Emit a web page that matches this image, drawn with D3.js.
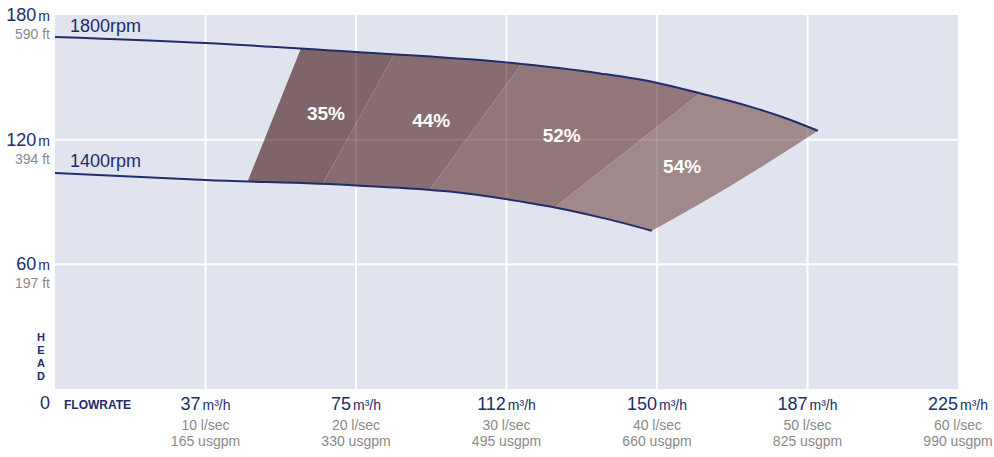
<!DOCTYPE html>
<html lang="en">
<head>
<meta charset="UTF-8">
<title>Pump performance curve</title>
<script src="https://cdn.jsdelivr.net/npm/d3@7"></script>
<style>
    body { margin: 0; background: #fff; }
    svg text { font-family: "Liberation Sans", Arial, sans-serif; }
</style>
</head>
<body>
<div id="chart"></div>
<script>
    // head axis (m) and its feet equivalents
    const headTicks = [60, 120, 180];
    const headFeet = ['197 ft', '394 ft', '590 ft'];

    // flowrate axis (m3/h) and its equivalents
    const flowTicks = [37.5, 75, 112.5, 150, 187.5, 225];
    const flowLabels = ['37', '75', '112', '150', '187', '225'];
    const lsecLabels = ['10 l/sec', '20 l/sec', '30 l/sec', '40 l/sec', '50 l/sec', '60 l/sec'];
    const usgpmLabels = ['165 usgpm', '330 usgpm', '495 usgpm', '660 usgpm', '825 usgpm', '990 usgpm'];

    // speed curves [flow m3/h, head m]
    const curve1800 = [[0, 169.4], [37.5, 166.5], [75, 162.2], [112.5, 157.2], [135.8, 151.9], [149.9, 147.4],
        [160.7, 142.3], [173.2, 135.9], [181.4, 130.8], [190.1, 124.3]];
    const curve1400 = [[0, 104], [37.5, 100.6], [75, 98], [98.4, 95], [112.6, 91.3], [123.3, 87.8],
        [135.8, 82.6], [148.7, 76.2]];
    // lower right edge of the operating area
    const rightEdge = [[148.7, 76.2], [169, 98.6], [190.1, 124.3]];

    // efficiency bands: boundary end points on the 1800 and 1400 curves
    const bandNames = ['35%', '44%', '52%', '54%'];
    const bandEdgeTop = [[61.25, 163.8], [84.5, 161], [116.25, 156.5], [160.7, 142.3], [235, 142.3]];
    const bandEdgeBottom = [[48, 99.9], [66.75, 99], [93.25, 95.6], [124.5, 87.4], [235, 87.4]];
    const bandLabelAt = [[67.5, 132.8], [93.75, 129.4], [126.25, 122.2], [156.25, 107.3]];

    const width = 994, height = 457;
    const navy = '#212c6a', grey = '#8a8a8a';

    const svg = d3.select('#chart').append('svg').attr('width', width).attr('height', height);

    const x = d3.scaleLinear().domain([0, 225]).range([55, 958]);
    const y = d3.scaleLinear().domain([0, 180]).range([389, 15]);

    const color = d3.scaleOrdinal().domain(bandNames).range(['#7f6469', '#886c71', '#93767a', '#a1888b']);

    // plot background
    svg.append('rect')
        .attr('x', x(0)).attr('y', y(180))
        .attr('width', x(225) - x(0)).attr('height', y(0) - y(180))
        .attr('fill', '#e1e4ef');

    const drawGrid = (g, opacity) => {
        g.selectAll('line.v').data(flowTicks.slice(0, -1)).join('line')
            .attr('class', 'v')
            .attr('x1', d => x(d)).attr('x2', d => x(d))
            .attr('y1', y(180)).attr('y2', y(0))
            .attr('stroke', '#fff').attr('stroke-width', 2).attr('stroke-opacity', opacity);
        g.selectAll('line.h').data(headTicks.slice(0, -1)).join('line')
            .attr('class', 'h')
            .attr('x1', x(0)).attr('x2', x(225))
            .attr('y1', d => y(d)).attr('y2', d => y(d))
            .attr('stroke', '#fff').attr('stroke-width', 2).attr('stroke-opacity', opacity);
    };
    drawGrid(svg.append('g'), 1);

    const curve = d3.curveMonotoneX;
    const line = d3.line().x(d => x(d[0])).y(d => y(d[1])).curve(curve);
    const areaBelow = d3.area().x(d => x(d[0])).y0(y(0)).y1(d => y(d[1])).curve(curve);
    const areaAbove = d3.area().x(d => x(d[0])).y0(y(180)).y1(d => y(d[1])).curve(curve);

    // clip: below the 1800 curve and above the 1400 curve / right edge
    const defs = svg.append('defs');
    defs.append('clipPath').attr('id', 'below-top')
        .append('path').attr('d', areaBelow(curve1800));
    const above = defs.append('clipPath').attr('id', 'above-bottom');
    above.append('path').attr('d', areaAbove(curve1400));
    above.append('path').attr('d', areaAbove(rightEdge));

    const shade = svg.append('g').attr('clip-path', 'url(#below-top)')
        .append('g').attr('clip-path', 'url(#above-bottom)');

    // extend each boundary line past both curves, the clip trims it
    const ext = (i, t) => {
        const a = [x(bandEdgeTop[i][0]), y(bandEdgeTop[i][1])];
        const b = [x(bandEdgeBottom[i][0]), y(bandEdgeBottom[i][1])];
        return [a[0] + (b[0] - a[0]) * t, a[1] + (b[1] - a[1]) * t];
    };
    shade.selectAll('polygon').data(bandNames).join('polygon')
        .attr('points', (d, i) => [ext(i, -0.3), ext(i + 1, -0.3), ext(i + 1, 1.3), ext(i, 1.3)].join(' '))
        .attr('fill', d => color(d));
    drawGrid(shade.append('g'), 0.1);

    // speed curves
    svg.append('path').datum(curve1800).attr('d', line)
        .attr('fill', 'none').attr('stroke', navy).attr('stroke-width', 2);
    svg.append('path').datum(curve1400).attr('d', line)
        .attr('fill', 'none').attr('stroke', navy).attr('stroke-width', 2);

    svg.append('text').text('1800rpm')
        .attr('x', 70).attr('y', y(curve1800[0][1]) - 5)
        .attr('font-size', 18).attr('fill', navy);
    svg.append('text').text('1400rpm')
        .attr('x', 70).attr('y', y(curve1400[0][1]) - 6)
        .attr('font-size', 18).attr('fill', navy);

    // band labels
    svg.selectAll('text.band').data(bandNames).join('text')
        .attr('class', 'band')
        .text(d => d)
        .attr('x', (d, i) => x(bandLabelAt[i][0]))
        .attr('y', (d, i) => y(bandLabelAt[i][1]) + 7)
        .attr('text-anchor', 'middle')
        .attr('font-size', 19).attr('font-weight', 'bold').attr('fill', '#fff');

    // head axis labels
    headTicks.forEach((h, i) => {
        const t = svg.append('text')
            .attr('x', 50).attr('y', y(h) + 6)
            .attr('text-anchor', 'end').attr('fill', navy);
        t.append('tspan').text(h).attr('font-size', 18);
        t.append('tspan').text('m').attr('font-size', 14).attr('dx', 2);
        svg.append('text').text(headFeet[i])
            .attr('x', 50).attr('y', y(h) + 24)
            .attr('text-anchor', 'end').attr('font-size', 14).attr('fill', grey);
    });
    svg.append('text').text('0')
        .attr('x', 50).attr('y', 409)
        .attr('text-anchor', 'end').attr('font-size', 18).attr('fill', navy);

    svg.append('text')
        .attr('x', 41).attr('text-anchor', 'middle')
        .attr('font-size', 11).attr('font-weight', 'bold').attr('fill', navy)
        .selectAll('tspan').data(['H', 'E', 'A', 'D']).join('tspan')
        .attr('x', 41).attr('y', (d, i) => 341 + i * 13).text(d => d);

    svg.append('text').text('FLOWRATE')
        .attr('x', 64).attr('y', 409)
        .attr('font-size', 12).attr('font-weight', 'bold').attr('fill', navy);

    // flowrate axis labels
    flowTicks.forEach((q, i) => {
        const t = svg.append('text')
            .attr('x', x(q)).attr('y', 410)
            .attr('text-anchor', 'middle').attr('fill', navy);
        t.append('tspan').text(flowLabels[i]).attr('font-size', 18);
        t.append('tspan').text('m³/h').attr('font-size', 14).attr('dx', 2);
        svg.append('text').text(lsecLabels[i])
            .attr('x', x(q)).attr('y', 430)
            .attr('text-anchor', 'middle').attr('font-size', 14).attr('fill', grey);
        svg.append('text').text(usgpmLabels[i])
            .attr('x', x(q)).attr('y', 446)
            .attr('text-anchor', 'middle').attr('font-size', 14).attr('fill', grey);
    });
</script>
</body>
</html>
